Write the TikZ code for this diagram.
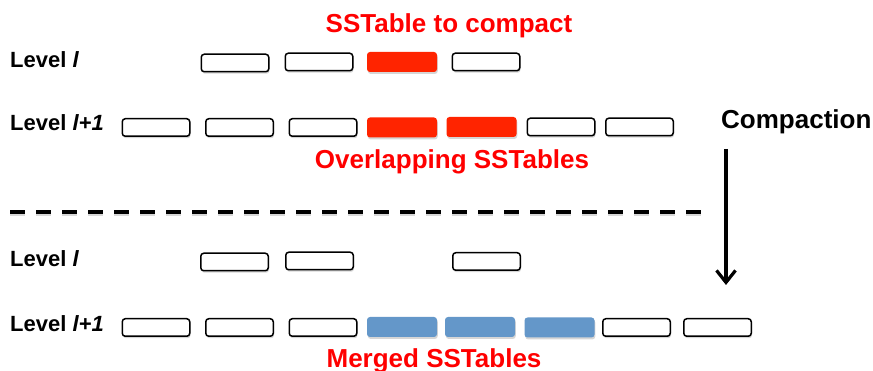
\documentclass[tikz,border=0pt]{standalone}
\usepackage{fontspec}
\setmainfont{Liberation Sans}
\usetikzlibrary{shadows,arrows.meta}
\definecolor{hotred}{RGB}{255,36,0}
\definecolor{txtred}{RGB}{255,0,0}
\definecolor{mergeblue}{RGB}{100,151,201}
\tikzset{
  sst/.style={draw=black, line width=1.5pt, fill=white, rounded corners=3pt,
    minimum width=67.5pt, minimum height=17.5pt, inner sep=0pt,
    drop shadow={shadow xshift=0.8pt, shadow yshift=-2pt, opacity=0.32}},
  hotsst/.style={fill=hotred, rounded corners=3pt,
    minimum width=70pt, minimum height=20pt, inner sep=0pt,
    drop shadow={shadow xshift=0.8pt, shadow yshift=-2pt, opacity=0.32}},
  mergedsst/.style={fill=mergeblue, rounded corners=3pt,
    minimum width=70pt, minimum height=20pt, inner sep=0pt,
    drop shadow={shadow xshift=0.8pt, shadow yshift=-2pt, opacity=0.32}},
  levellabel/.style={anchor=base west, inner sep=0pt,
    font=\fontsize{22}{26}\selectfont\bfseries},
  redlabel/.style={anchor=base, inner sep=0pt, text=txtred,
    font=\fontsize{26}{30}\selectfont\bfseries},
  blacklabel/.style={anchor=base west, inner sep=0pt,
    font=\fontsize{26}{30}\selectfont\bfseries},
  divider/.style={line width=4pt, dash pattern=on 15pt off 11pt},
  flow/.style={line width=3.2pt, -{Straight Barb[length=12pt,width=19pt,line width=3.2pt]}}
}
\begin{document}
\begin{tikzpicture}[x=1pt,y=-1pt]
\useasboundingbox (0,0) rectangle (873,371);

% ---- before compaction ----
\node[redlabel] (pick) at (449,33) {SSTable to compact};

\node[levellabel] (lvA) at (10,68) {Level \textit{l}};
\node[sst] (a1) at (235,63) {};
\node[sst] (a2) at (319,62) {};
\node[hotsst] (a3) at (402,62) {};
\node[sst] (a4) at (486,62) {};

\node[levellabel] (lvB) at (10,131) {Level \textit{l+1}};
\node[sst] (b1) at (156,127.5) {};
\node[sst] (b2) at (239.5,127.5) {};
\node[sst] (b3) at (323,127.5) {};
\node[hotsst] (b4) at (402,127.5) {};
\node[hotsst] (b5) at (481.5,127) {};
\node[sst] (b6) at (561,127) {};
\node[sst] (b7) at (639.5,127) {};

\node[redlabel] (overlap) at (452,169) {Overlapping SSTables};

% ---- separator and compaction arrow ----
\coordinate (dashL) at (10,212);
\coordinate (dashR) at (705,212);
\draw[divider, black!30, opacity=0.5] ([yshift=-2pt]dashL) -- ([yshift=-2pt]dashR);
\draw[divider] (dashL) -- (dashR);

\node[blacklabel] (comp) at (721,129) {Compaction};
\coordinate (flowTop) at (726,149);
\coordinate (flowEnd) at (726,285);
\draw[flow] (flowTop) -- (flowEnd);

% ---- after compaction ----
\node[levellabel] (lvC) at (10,267) {Level \textit{l}};
\node[sst] (c1) at (234.5,262) {};
\node[sst] (c2) at (319.5,261) {};
\node[sst] (c3) at (486.5,261.5) {};

\node[levellabel] (lvD) at (10,331) {Level \textit{l+1}};
\node[sst] (d1) at (156,327.5) {};
\node[sst] (d2) at (239.5,327.5) {};
\node[sst] (d3) at (323,327.5) {};
\node[mergedsst] (d4) at (402,327) {};
\node[mergedsst] (d5) at (480,327) {};
\node[mergedsst] (d6) at (559.5,327.5) {};
\node[sst] (d7) at (636.5,327.5) {};
\node[sst] (d8) at (717.5,327.5) {};

\node[redlabel] (merged) at (434,367) {Merged SSTables};
\end{tikzpicture}
\end{document}
